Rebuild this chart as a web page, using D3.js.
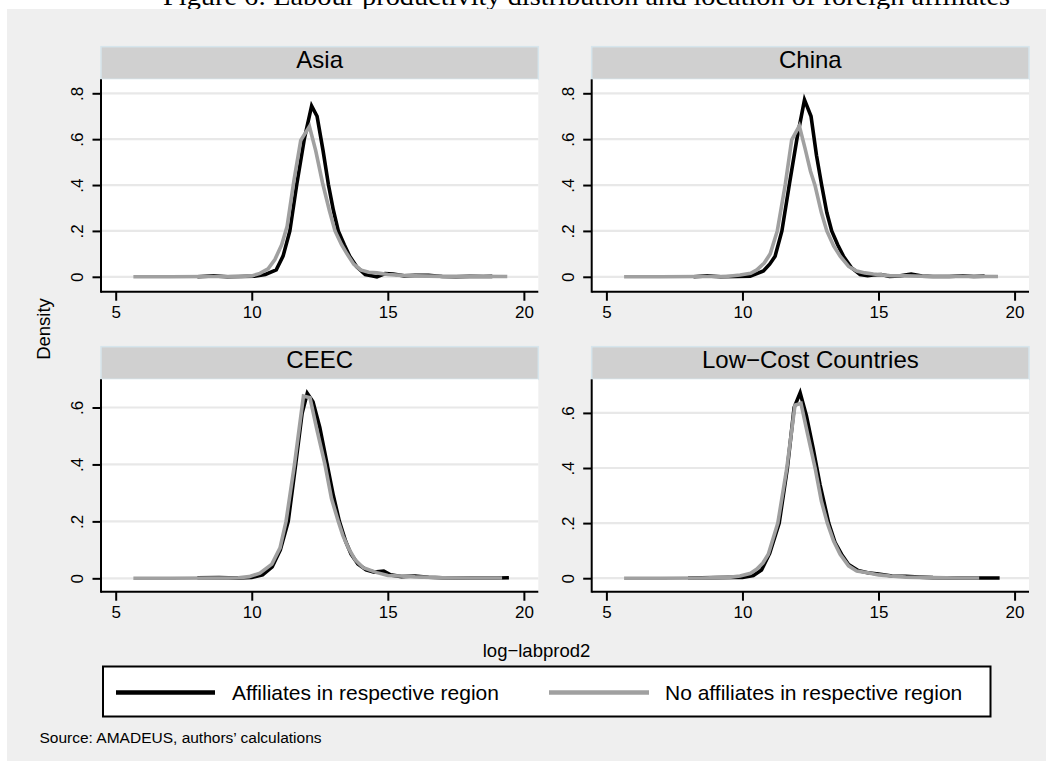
<!DOCTYPE html>
<html>
<head>
<meta charset="utf-8">
<script src="https://cdn.jsdelivr.net/npm/d3@7.9.0/dist/d3.min.js"></script>
<style>
  body { margin: 0; background: #fff; }
  svg { display: block; font-family: "Liberation Sans", Arial, sans-serif; }
</style>
</head>
<body>
<svg id="chart" width="1053" height="772"></svg>
<script>
// ---- data ----
const panelNames = ['Asia', 'China', 'CEEC', 'Low\u2212Cost Countries'];
const seriesNames = ['Affiliates in respective region', 'No affiliates in respective region'];
const xTicks = [5, 10, 15, 20];
const yTicksTop = [0, 0.2, 0.4, 0.6, 0.8];
const yTicksBottom = [0, 0.2, 0.4, 0.6];

// density curves as [log-labprod2, density]
const asiaAff = [[8.0,0.000],[8.6,0.004],[9.1,0.000],[9.6,0.001],[10.1,0.003],[10.5,0.010],[10.9,0.030],[11.15,0.090],[11.4,0.200],[11.65,0.400],[11.93,0.600],[12.2,0.745],[12.4,0.700],[12.62,0.550],[12.82,0.400],[13.0,0.290],[13.18,0.200],[13.4,0.140],[13.6,0.090],[13.85,0.045],[14.17,0.010],[14.4,0.005],[14.6,0.000],[14.9,0.014],[15.2,0.012],[15.6,0.004],[16.0,0.006],[16.5,0.007],[17.0,0.001],[17.5,0.000],[18.0,0.002],[18.5,0.001],[18.84,0.002]];
const asiaNo = [[5.65,0.000],[7.0,0.000],[8.5,0.001],[9.5,0.001],[10.0,0.004],[10.3,0.015],[10.6,0.035],[10.85,0.075],[11.1,0.140],[11.3,0.220],[11.55,0.420],[11.8,0.595],[12.12,0.655],[12.35,0.550],[12.6,0.410],[12.85,0.290],[13.06,0.200],[13.3,0.140],[13.5,0.100],[13.75,0.055],[14.0,0.030],[14.3,0.020],[14.6,0.017],[15.0,0.010],[15.5,0.006],[16.0,0.004],[17.0,0.002],[18.0,0.002],[19.39,0.001]];
const chinaAff = [[8.2,0.000],[8.7,0.004],[9.2,0.000],[9.8,0.001],[10.28,0.003],[10.77,0.025],[11.0,0.055],[11.2,0.090],[11.45,0.200],[11.72,0.400],[12.0,0.600],[12.28,0.771],[12.52,0.700],[12.72,0.530],[12.91,0.400],[13.1,0.280],[13.28,0.200],[13.5,0.140],[13.71,0.090],[14.0,0.040],[14.32,0.010],[14.6,0.005],[14.8,0.008],[15.1,0.010],[15.4,0.002],[15.8,0.004],[16.2,0.012],[16.6,0.003],[17.0,0.001],[17.6,0.001],[18.1,0.004],[18.5,0.001],[18.9,0.003]];
const chinaNo = [[5.65,0.000],[7.0,0.000],[8.5,0.001],[9.4,0.001],[9.91,0.008],[10.3,0.015],[10.53,0.030],[10.8,0.060],[11.02,0.100],[11.28,0.200],[11.57,0.400],[11.81,0.597],[12.09,0.658],[12.3,0.560],[12.5,0.460],[12.67,0.397],[12.9,0.280],[13.1,0.200],[13.35,0.135],[13.59,0.090],[13.9,0.045],[14.2,0.025],[14.5,0.017],[14.81,0.012],[15.4,0.005],[16.0,0.004],[17.0,0.001],[18.0,0.002],[19.39,0.001]];
const ceecAff = [[8.0,0.002],[8.8,0.003],[9.5,0.001],[10.0,0.003],[10.4,0.012],[10.75,0.040],[11.05,0.100],[11.34,0.200],[11.6,0.390],[11.85,0.580],[12.04,0.650],[12.25,0.620],[12.5,0.530],[12.75,0.410],[13.0,0.290],[13.22,0.200],[13.45,0.130],[13.65,0.085],[13.9,0.050],[14.2,0.030],[14.5,0.022],[14.85,0.025],[15.1,0.012],[15.5,0.006],[16.0,0.008],[16.5,0.004],[17.0,0.002],[18.0,0.001],[19.0,0.001],[19.45,0.002]];
const ceecNo = [[5.65,0.000],[7.0,0.000],[8.5,0.001],[9.5,0.002],[9.9,0.006],[10.3,0.018],[10.74,0.050],[11.04,0.107],[11.26,0.200],[11.57,0.400],[11.9,0.640],[12.14,0.634],[12.4,0.520],[12.69,0.400],[12.93,0.280],[13.18,0.200],[13.35,0.150],[13.55,0.107],[13.8,0.065],[14.1,0.037],[14.6,0.020],[15.0,0.010],[15.45,0.008],[16.0,0.005],[17.0,0.002],[18.0,0.001],[19.2,0.001]];
const lccAff = [[8.0,0.001],[9.0,0.002],[9.7,0.003],[10.0,0.003],[10.4,0.010],[10.7,0.030],[11.0,0.090],[11.35,0.200],[11.65,0.400],[11.9,0.620],[12.12,0.673],[12.35,0.590],[12.6,0.470],[12.85,0.340],[13.17,0.200],[13.4,0.130],[13.64,0.087],[13.9,0.050],[14.25,0.028],[14.6,0.020],[15.0,0.015],[15.5,0.008],[16.0,0.007],[16.5,0.004],[17.0,0.002],[18.0,0.001],[18.7,0.001],[19.45,0.001]];
const lccNo = [[5.65,0.000],[7.0,0.000],[8.5,0.001],[9.5,0.003],[9.91,0.008],[10.3,0.018],[10.53,0.033],[10.75,0.055],[10.95,0.087],[11.3,0.200],[11.63,0.400],[11.93,0.628],[12.15,0.635],[12.4,0.520],[12.67,0.400],[12.9,0.280],[13.12,0.200],[13.35,0.135],[13.59,0.087],[13.9,0.045],[14.2,0.026],[14.6,0.020],[15.0,0.012],[15.43,0.008],[16.0,0.004],[17.0,0.002],[18.0,0.001],[18.7,0.001]];

// ---- layout ----
const colors = ['#000000', '#a0a0a0'];
const panelW = 437.3, headH = 32.6, plotH = 212.4;
const xDomain = [4.46, 20.53];

const panels = [
  { name: panelNames[0], x0: 101,   y0: 46.7,  yDom: [-0.065, 0.861], ticks: yTicksTop,    curves: [asiaAff, asiaNo] },
  { name: panelNames[1], x0: 591.7, y0: 46.7,  yDom: [-0.065, 0.861], ticks: yTicksTop,    curves: [chinaAff, chinaNo] },
  { name: panelNames[2], x0: 101,   y0: 346.7, yDom: [-0.047, 0.699], ticks: yTicksBottom, curves: [ceecAff, ceecNo] },
  { name: panelNames[3], x0: 591.7, y0: 346.7, yDom: [-0.049, 0.722], ticks: yTicksBottom, curves: [lccAff, lccNo] }
];

const svg = d3.select('#chart');

// title, cut off by the page top as in the source figure
svg.append('text')
  .attr('x', 163).attr('y', 5)
  .attr('textLength', 847).attr('lengthAdjust', 'spacingAndGlyphs')
  .style('font-family', '"Liberation Serif", "Times New Roman", serif')
  .style('font-size', '25px')
  .text('Figure 6: Labour productivity distribution and location of foreign affiliates');

svg.append('rect')
  .attr('x', 7).attr('y', 9).attr('width', 1039).attr('height', 752)
  .attr('fill', '#efefef');

const yFmt = d => d === 0 ? '0' : d3.format('.1f')(d).replace(/^0/, '');

panels.forEach(p => {
  const top = p.y0 + headH, bottom = top + plotH, right = p.x0 + panelW;
  const x = d3.scaleLinear().domain(xDomain).range([p.x0, right]);
  const y = d3.scaleLinear().domain(p.yDom).range([bottom, top]);
  const g = svg.append('g');

  // header strip
  g.append('rect')
    .attr('x', p.x0).attr('y', p.y0).attr('width', panelW).attr('height', headH)
    .attr('fill', '#d0d0d0').attr('stroke', '#d6e5ec').attr('stroke-width', 1.5);
  g.append('text')
    .attr('x', p.x0 + panelW / 2).attr('y', p.y0 + 21.5)
    .attr('text-anchor', 'middle').style('font-size', '24px')
    .text(p.name);

  // plot region
  g.append('rect')
    .attr('x', p.x0).attr('y', top).attr('width', panelW).attr('height', plotH)
    .attr('fill', '#fff');

  g.selectAll('line.grid').data(p.ticks).join('line')
    .attr('class', 'grid')
    .attr('x1', p.x0).attr('x2', right)
    .attr('y1', d => y(d)).attr('y2', d => y(d))
    .attr('stroke', '#e8e8e8').attr('stroke-width', 2.2);

  const line = d3.line().x(d => x(d[0])).y(d => y(d[1]));
  p.curves.forEach((c, i) => {
    g.append('path')
      .attr('d', line(c))
      .attr('fill', 'none')
      .attr('stroke', colors[i])
      .attr('stroke-width', 3.6)
      .attr('stroke-linejoin', 'miter');
  });

  // axes
  const ax = g.append('g').attr('transform', `translate(0,${bottom})`)
    .call(d3.axisBottom(x).tickValues(xTicks).tickSizeOuter(0).tickSize(9).tickPadding(5));
  const ay = g.append('g').attr('transform', `translate(${p.x0},0)`)
    .call(d3.axisLeft(y).tickValues(p.ticks).tickFormat(yFmt).tickSizeOuter(0).tickSize(8.5));

  [ax, ay].forEach(a => {
    a.select('.domain').attr('stroke', '#000').attr('stroke-width', 2);
    a.selectAll('.tick line').attr('stroke', '#000').attr('stroke-width', 2);
    a.selectAll('text').attr('fill', '#000')
      .style('font-size', '17px').style('font-family', '"Liberation Sans", Arial, sans-serif');
  });
  ax.select('.domain').attr('d', `M${p.x0},0H${right}`);
  ay.select('.domain').attr('d', `M0,${top}V${bottom + 1}`);
  ax.selectAll('.tick text').attr('dy', 0).attr('y', 26);
  ay.selectAll('.tick text')
    .attr('text-anchor', 'middle')
    .attr('x', 0).attr('y', -17.7).attr('dy', 0)
    .attr('transform', 'rotate(-90)');
});

// axis titles
svg.append('text')
  .attr('transform', 'translate(50,329) rotate(-90)')
  .attr('text-anchor', 'middle').style('font-size', '18.5px')
  .text('Density');
svg.append('text')
  .attr('x', 536.5).attr('y', 657)
  .attr('text-anchor', 'middle').style('font-size', '18.5px')
  .text('log\u2212labprod2');

// legend
const legend = svg.append('g');
legend.append('rect')
  .attr('x', 103).attr('y', 666.5).attr('width', 887.5).attr('height', 50)
  .attr('fill', '#fff').attr('stroke', '#000').attr('stroke-width', 2);
const legX = [[116, 215, 232], [549, 649, 665]];
seriesNames.forEach((s, i) => {
  legend.append('line')
    .attr('x1', legX[i][0]).attr('x2', legX[i][1])
    .attr('y1', 692.5).attr('y2', 692.5)
    .attr('stroke', colors[i]).attr('stroke-width', 4.5);
  legend.append('text')
    .attr('x', legX[i][2]).attr('y', 700)
    .style('font-size', '21px')
    .text(s);
});

svg.append('text')
  .attr('x', 39.5).attr('y', 742.5)
  .style('font-size', '15.5px')
  .text('Source: AMADEUS, authors\u2019 calculations');
</script>
</body>
</html>
